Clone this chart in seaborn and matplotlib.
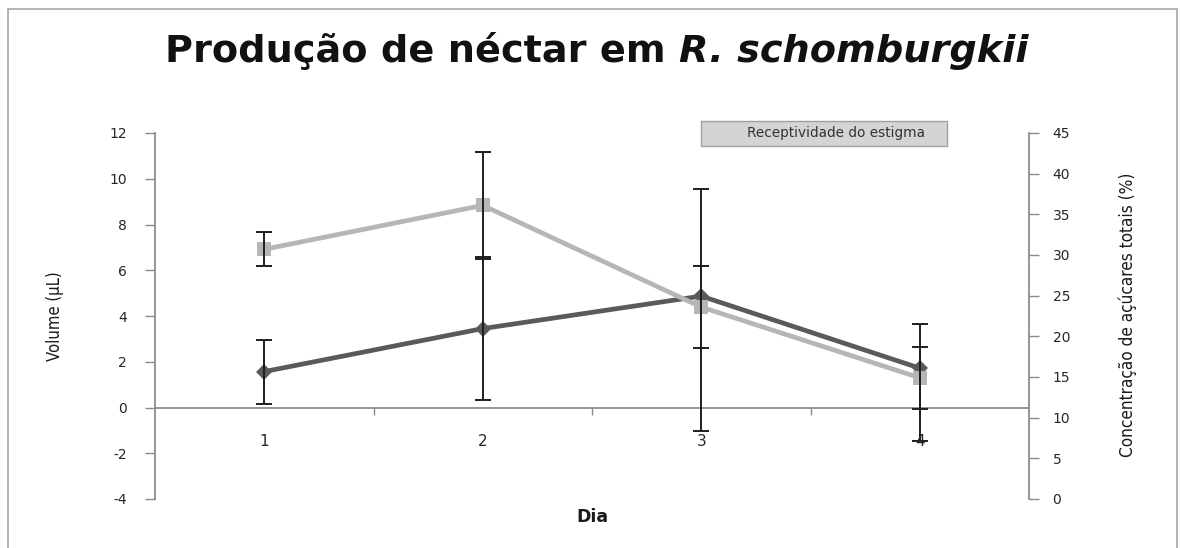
import matplotlib
matplotlib.use("Agg")
import matplotlib.pyplot as plt
import seaborn as sns
import pandas as pd
from matplotlib.patches import Rectangle

# Days of observation
dias = [1, 2, 3, 4]
dia_labels = ["1", "2", "3", "4"]

# Nectar volume (µL), left axis, with lower / upper error
volume = [1.57, 3.45, 4.87, 1.72]
volume_err_low = [1.40, 3.12, 5.90, 3.20]
volume_err_high = [1.40, 3.12, 4.70, 1.93]

# Total sugar concentration (%), right axis, with symmetric error
acucares = [30.7, 36.1, 23.6, 14.9]
acucares_err = [2.1, 6.6, 5.0, 3.85]

left_ticks = [-4, -2, 0, 2, 4, 6, 8, 10, 12]
right_ticks = [0, 5, 10, 15, 20, 25, 30, 35, 40, 45]

titulo = "Produção de néctar em "
titulo_especie = "R. schomburgkii"
legenda = "Receptividade do estigma"

sns.set_style("white")
plt.rcParams["font.family"] = ["DejaVu Sans"]

W, H = 1180, 548
fig = plt.figure(figsize=(W / 100, H / 100), dpi=100)
fig.patch.set_facecolor("white")

# outer chart frame
fig.add_artist(Rectangle((8 / W, -0.02), (1177 - 8) / W, (H - 9) / H + 0.02,
                         transform=fig.transFigure, fill=False,
                         edgecolor="#a8a8a8", lw=1.2, zorder=0))

pos = [155 / W, (H - 499) / H, (1029 - 155) / W, (499 - 133) / H]
ax = fig.add_axes(pos)
ax2 = ax.twinx()
ax3 = fig.add_axes(pos, sharex=ax, sharey=ax)
for a in (ax2, ax3):
    a.patch.set_visible(False)
ax.set_zorder(1)
ax2.set_zorder(2)
ax3.set_zorder(3)

df = pd.DataFrame({"Dia": dias, "Volume": volume, "Acucares": acucares})

sns.lineplot(data=df, x="Dia", y="Volume", ax=ax, color="#5a5a5a", lw=3.4,
             marker="D", markersize=8, markeredgewidth=0)
sns.lineplot(data=df, x="Dia", y="Acucares", ax=ax2, color="#b6b6b6", lw=3.4,
             marker="s", markersize=10, markeredgewidth=0)

ax2.errorbar(dias, acucares, yerr=acucares_err, fmt="none", ecolor="#1e1e1e",
             elinewidth=1.4, capsize=5.5, capthick=1.4, zorder=5)
ax3.errorbar(dias, volume, yerr=[volume_err_low, volume_err_high], fmt="none",
             ecolor="#1e1e1e", elinewidth=1.4, capsize=5.5, capthick=1.4, zorder=5)

axis_grey = "#8c8c8c"
label_col = "#262626"

ax.set_xlim(0.5, 4.5)
ax.set_ylim(-4, 12)
ax2.set_ylim(0, 45)

# left axis
ax.set_yticks(left_ticks)
ax.set_yticklabels([str(t) for t in left_ticks])
for s in ("top", "right"):
    ax.spines[s].set_visible(False)
ax.spines["left"].set_color(axis_grey)
ax.spines["left"].set_linewidth(1.3)
ax.spines["bottom"].set_position(("data", 0))
ax.spines["bottom"].set_color(axis_grey)
ax.spines["bottom"].set_linewidth(1.3)
ax.tick_params(axis="y", which="major", direction="out", length=7, width=1,
               color=axis_grey, labelsize=10, labelcolor=label_col, pad=13, left=True)

# x axis: ticks between categories, labels under categories
ax.set_xticks([1.5, 2.5, 3.5])
ax.set_xticklabels([])
ax.set_xticks(dias, labels=dia_labels, minor=True)
ax.tick_params(axis="x", which="major", direction="out", length=5, width=1,
               color=axis_grey, bottom=True)
ax.tick_params(axis="x", which="minor", length=0, pad=19, labelsize=11,
               labelcolor=label_col, bottom=True)
ax.set_xlabel("")
ax.set_ylabel("")

# right axis
ax2.set_yticks(right_ticks)
ax2.set_yticklabels([str(t) for t in right_ticks])
for s in ("top", "left", "bottom"):
    ax2.spines[s].set_visible(False)
ax2.spines["right"].set_color(axis_grey)
ax2.spines["right"].set_linewidth(1.3)
ax2.tick_params(axis="y", direction="out", length=7, width=1, color=axis_grey,
                labelsize=10, labelcolor=label_col, pad=10, right=True)
ax2.set_ylabel("")

# overlay axes only carries the volume error bars
for s in ax3.spines.values():
    s.set_visible(False)
ax3.tick_params(which="both", left=False, bottom=False, labelleft=False,
                labelbottom=False)
ax3.set_xlabel("")
ax3.set_ylabel("")

fig.text(55 / W, 1 - 316 / H, "Volume (µL)", rotation=90, ha="center", va="center",
         fontsize=12, family="DejaVu Sans", fontstretch="condensed", color="#1a1a1a")
fig.text(1128 / W, 1 - 315 / H, "Concentração de açúcares totais (%)", rotation=90,
         ha="center", va="center", fontsize=12.3, family="DejaVu Sans",
         fontstretch="condensed", color="#1a1a1a")
fig.text(592 / W, 1 - 517 / H, "Dia", ha="center", va="center", fontsize=12.5,
         fontweight="bold", color="#1a1a1a")

# title: regular part followed by italic species name
t1 = fig.text(165 / W, 1 - 62 / H, titulo, ha="left", va="baseline", fontsize=27.5,
              fontweight="bold", color="#111111")
fig.canvas.draw()
bb = t1.get_window_extent()
fig.text(bb.x1 / W, 1 - 62 / H, titulo_especie, ha="left", va="baseline", fontsize=27.5,
         fontweight="bold", style="italic", color="#111111")

# legend box
fig.add_artist(Rectangle((701 / W, 1 - 146 / H), 246 / W, 25 / H, transform=fig.transFigure,
                         facecolor="#d4d4d4", edgecolor="#a0a0a0", lw=1, zorder=10))
fig.text(747 / W, 1 - 133.5 / H, legenda, ha="left", va="center", fontsize=9.8,
         color="#333333", zorder=11)

fig.savefig("out.png", dpi=100)
